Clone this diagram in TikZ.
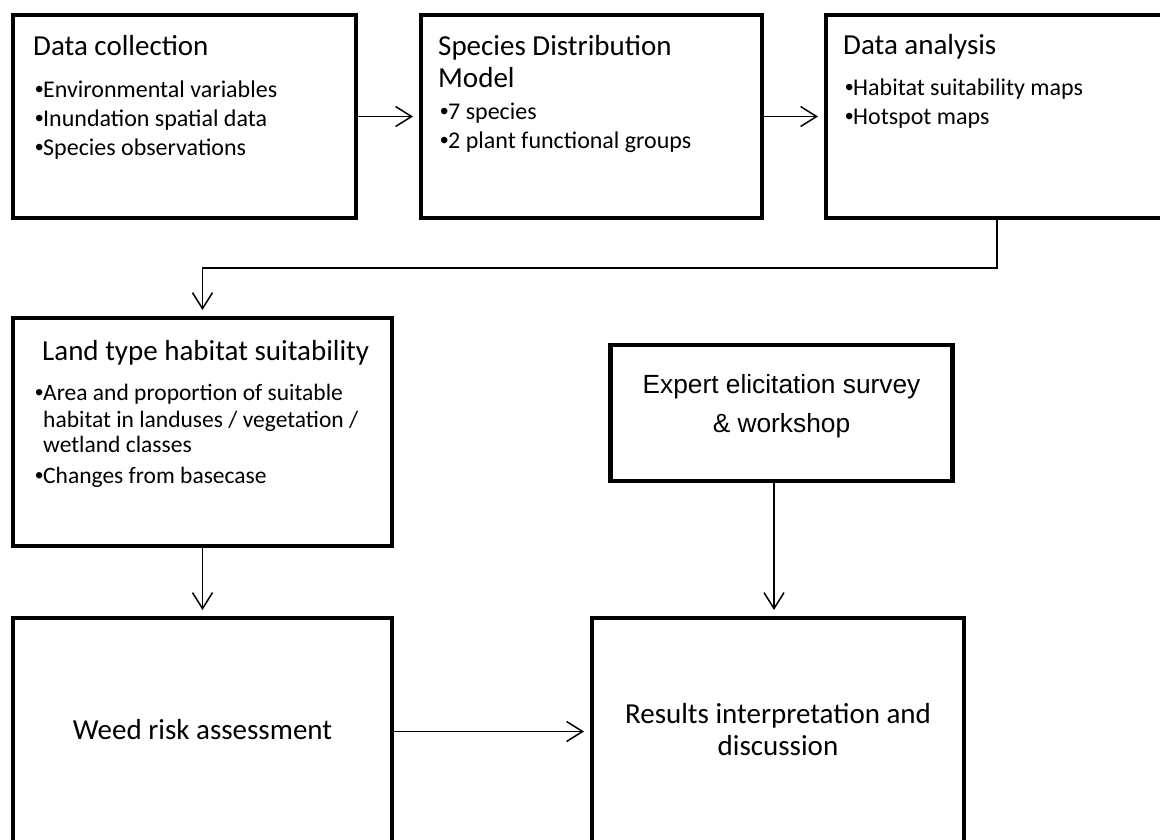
\documentclass[tikz,border=0pt]{standalone}
\usepackage{fontspec}
\setmainfont{Carlito}
\newfontfamily\arialf{Liberation Sans}
\usetikzlibrary{arrows.meta}
\newcommand\bu{\makebox[8pt][l]{\arialf •}}
\begin{document}
\begin{tikzpicture}[x=1pt,y=-1pt,
  box/.style={draw, line width=4.5pt, inner sep=0pt, outer sep=0pt},
  ttl/.style={anchor=base west, inner sep=0pt, font=\fontsize{29}{35}\selectfont},
  bl/.style={anchor=base west, inner sep=0pt, font=\fontsize{24}{29}\selectfont},
  bls/.style={anchor=base west, inner sep=0pt, font=\fontsize{23.5}{27}\selectfont},
  ctr/.style={anchor=base, inner sep=0pt, font=\fontsize{29}{35}\selectfont},
  actr/.style={anchor=base, inner sep=0pt, font=\arialf\fontsize{26.3}{32}\selectfont},
  arr/.style={line width=1.5pt, -{Straight Barb[length=16pt,width=20pt]}, shorten >=8pt}]
\path[use as bounding box, fill=white] (0,0) rectangle (1160,839);

% boxes
\node[box, minimum width=343pt, minimum height=203pt] (b1) at (184.5,116.5) {};
\node[box, minimum width=341pt, minimum height=203pt] (b2) at (591.5,116.5) {};
\node[box, minimum width=342pt, minimum height=203pt] (b3) at (997,116.5) {};
\node[box, minimum width=379pt, minimum height=228pt] (b4) at (202.5,432) {};
\node[box, minimum width=342pt, minimum height=136pt] (b5) at (781.5,413) {};
\node[box, minimum width=379pt, minimum height=227pt] (b6) at (202.5,731.5) {};
\node[box, minimum width=372pt, minimum height=227pt] (b7) at (778,731.5) {};
\coordinate (e) at (774,0);

% texts box 1
\node[ttl] (t1) at (33,55) {Data collection};
\node[bl] (t1a) at (35,97) {\bu Environmental variables};
\node[bl] (t1b) at (35,126) {\bu Inundation spatial data};
\node[bl] (t1c) at (35,155) {\bu Species observations};
% box 2
\node[ttl] (t2) at (438,55) {Species Distribution};
\node[ttl] (t2x) at (438,87) {Model};
\node[bl] (t2a) at (440,119) {\bu 7 species};
\node[bl] (t2b) at (440,148) {\bu 2 plant functional groups};
% box 3
\node[ttl] (t3) at (843,54) {Data analysis};
\node[bl] (t3a) at (845,95) {\bu Habitat suitability maps};
\node[bl] (t3b) at (845,124) {\bu Hotspot maps};
% box 4
\node[ttl] (t4) at (42,360) {Land type habitat suitability};
\node[bls] (t4a) at (35,400) {\bu Area and proportion of suitable};
\node[bls] (t4b) at (43,427) {habitat in landuses / vegetation /};
\node[bls] (t4c) at (43,452) {wetland classes};
\node[bls] (t4d) at (35,483) {\bu Changes from basecase};
% box 5
\node[actr] (t5a) at (781.5,393) {Expert elicitation survey};
\node[actr] (t5b) at (781.5,432) {\& workshop};
% box 6
\node[ctr] (t6) at (202.5,739) {Weed risk assessment};
% box 7
\node[ctr] (t7a) at (778,723) {Results interpretation and};
\node[ctr] (t7b) at (778,755) {discussion};

% connectors
\draw[arr] (b1.east) -- (b2.west);
\draw[arr] (b2.east) -- (b3.west);
\draw[arr] (b3.south) -- ++(0,50) -| (b4.north);
\draw[arr] (b4.south) -- (b6.north);
\draw[arr] (b5.south -| e) -- (b7.north -| e);
\draw[arr] (b6.east) -- (b7.west);
\end{tikzpicture}
\end{document}
